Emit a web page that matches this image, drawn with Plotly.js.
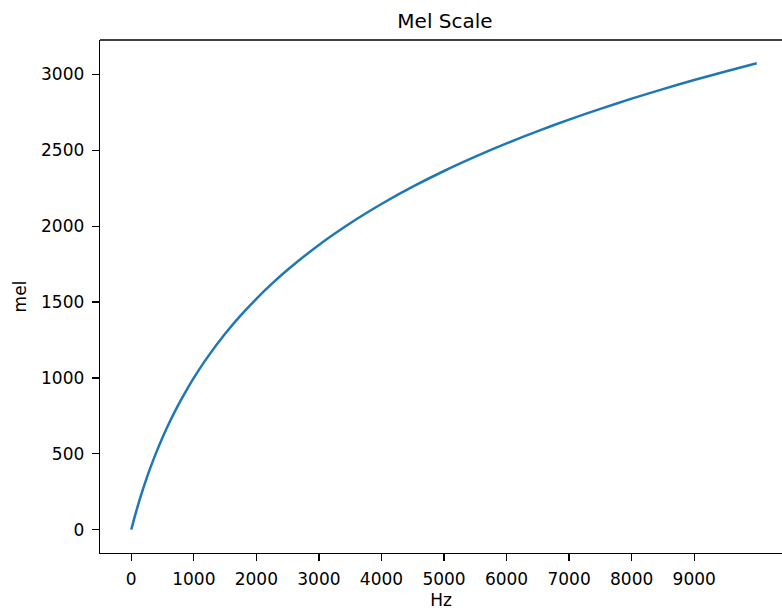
<!DOCTYPE html>
<html>
<head>
<meta charset="utf-8">
<script src="https://cdn.plot.ly/plotly-3.0.1.min.js"></script>
<style>
  html, body { margin: 0; padding: 0; background: #fff; }
  #chart { width: 782px; height: 612px; }
</style>
</head>
<body>
<div id="chart"></div>
<script>
// Frequency (Hz) and the corresponding mel value
const hz = [0, 50, 100, 150, 200, 250, 300, 400, 500, 600, 700, 800, 900, 1000,
            1200, 1500, 1750, 2000, 2250, 2500, 3000, 3500, 4000, 4500, 5000,
            5500, 6000, 6500, 7000, 7500, 8000, 8500, 9000, 9500, 10000];
const mel = [0, 77.7, 150.5, 218.8, 283.2, 344.1, 402.0, 509.4, 607.4, 697.7, 781.2,
             858.9, 931.7, 1000, 1125.3, 1290.5, 1411.9, 1521.4, 1621.1, 1712.8,
             1876.5, 2019.3, 2146.0, 2260.0, 2363.5, 2458.0, 2545.6, 2626.7,
             2702.4, 2773.3, 2840.0, 2903.0, 2962.7, 3019.3, 3073.0];

const xTicks = [0, 1000, 2000, 3000, 4000, 5000, 6000, 7000, 8000, 9000];
const yTicks = [0, 500, 1000, 1500, 2000, 2500, 3000];

const font = "DejaVu Sans, sans-serif";
const spine = "#000000";

const trace = {
  x: hz,
  y: mel,
  type: "scatter",
  mode: "lines",
  line: { color: "#1f77b4", width: 2.5, shape: "spline", smoothing: 0.6 },
  hoverinfo: "skip"
};

const axisCommon = {
  showgrid: false,
  zeroline: false,
  showline: true,
  linecolor: spine,
  linewidth: 1.3,
  ticks: "outside",
  ticklen: 7,
  tickwidth: 1.3,
  tickcolor: spine,
  tickfont: { family: font, size: 17, color: "#000" }
};

const layout = {
  width: 782,
  height: 612,
  margin: { l: 100, r: 0, t: 40, b: 59, pad: 0 },
  paper_bgcolor: "#fff",
  plot_bgcolor: "#fff",
  showlegend: false,
  font: { family: font, color: "#000" },
  title: {
    text: "Mel Scale",
    font: { family: font, size: 20, color: "#000" },
    xref: "container", x: 445 / 782, xanchor: "center",
    yref: "container", y: 1 - 20.5 / 612, yanchor: "middle"
  },
  xaxis: Object.assign({}, axisCommon, {
    range: [-500, 10404],
    tickmode: "array",
    tickvals: xTicks,
    ticktext: xTicks.map(String),
    ticklabelstandoff: 3,
    title: { text: "Hz", font: { family: font, size: 17, color: "#000" }, standoff: 6 }
  }),
  yaxis: Object.assign({}, axisCommon, {
    range: [-153.7, 3226.7],
    tickmode: "array",
    tickvals: yTicks,
    ticktext: yTicks.map(String),
    ticklabelstandoff: 4,
    title: { text: "mel", font: { family: font, size: 17, color: "#000" }, standoff: 10 }
  }),
  shapes: [
    // top frame edge
    { type: "line", xref: "paper", yref: "paper", x0: 0, x1: 1, y0: 1, y1: 1,
      line: { color: spine, width: 1.3 } }
  ]
};

Plotly.newPlot("chart", [trace], layout, { displayModeBar: false, staticPlot: true });
</script>
</body>
</html>
